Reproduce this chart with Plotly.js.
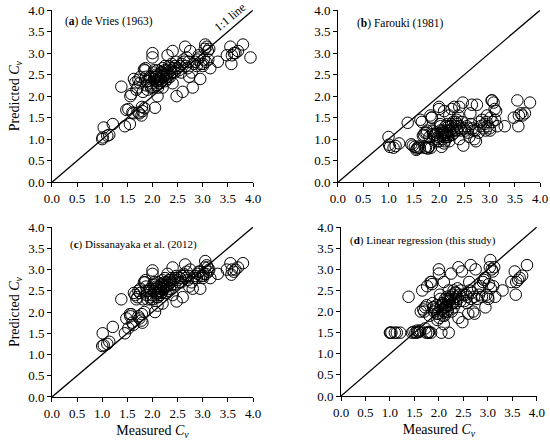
<!DOCTYPE html>
<html>
<head>
<meta charset="utf-8">
<script src="https://cdn.plot.ly/plotly-3.0.1.min.js"></script>
<style>
  body { margin: 0; background: #fff; }
  #chart { width: 550px; height: 441px; }
</style>
</head>
<body>
<div id="chart"></div>
<script>
// measured Cv (shared by all four panels)
var measured = [
  1.00, 1.01, 1.03, 1.10, 1.14, 1.21,
  1.38, 1.45, 1.48, 1.52, 1.55, 1.56, 1.58, 1.60, 1.63, 1.66,
  1.70, 1.72, 1.74, 1.76, 1.78, 1.80, 1.81, 1.83, 1.84, 1.86,
  1.88, 1.90, 1.62, 1.68, 1.75, 1.79, 1.85, 1.87, 1.89, 1.72,
  1.92, 1.95, 1.97, 1.98, 2.00, 2.00, 2.02, 2.03, 2.05, 2.06,
  2.07, 2.08, 2.10, 2.10, 2.12, 2.13, 2.15, 2.16, 2.17, 2.18,
  2.20, 2.20, 2.22, 2.23, 2.25, 2.26, 2.28, 2.30, 2.30, 2.32,
  2.33, 2.35, 2.36, 2.38, 2.40, 2.40, 2.42, 2.44, 2.45, 2.47,
  2.48, 2.50, 2.03, 2.08, 2.11, 2.14, 2.18, 2.21, 1.96, 2.05,
  2.09, 2.24, 2.27, 2.12, 2.16, 2.19, 2.01, 2.35, 2.39, 2.29,
  2.52, 2.55, 2.58, 2.60, 2.62, 2.65, 2.66, 2.68, 2.70, 2.72,
  2.75, 2.78, 2.80, 2.82, 2.85, 2.88, 2.90, 2.92, 2.95, 2.97,
  3.00, 3.02, 3.04, 3.05, 3.06, 3.08, 3.10, 3.11, 3.13, 3.15,
  2.57, 2.63, 2.73, 2.94, 3.01,
  3.30, 3.48, 3.55, 3.57, 3.58, 3.62, 3.65, 3.70, 3.80, 3.95
];

// (a) de Vries (1963)
var predDeVries = [
  1.00, 1.04, 1.27, 1.08, 1.10, 1.35,
  2.22, 1.30, 1.68, 1.70, 1.35, 2.00, 2.05, 1.62, 2.40, 2.32,
  2.20, 2.38, 1.60, 2.45, 1.55, 1.65, 2.10, 2.62, 1.72, 2.65,
  2.25, 2.15, 1.60, 2.15, 2.30, 1.75, 2.60, 2.45, 2.35, 1.62,
  2.35, 2.45, 2.20, 2.30, 3.00, 2.90, 2.55, 2.40, 1.73, 2.35,
  2.45, 2.25, 2.00, 2.60, 2.40, 2.50, 2.30, 2.45, 2.55, 2.35,
  2.65, 2.20, 2.45, 2.50, 2.70, 2.35, 2.60, 2.95, 2.40, 2.55,
  2.70, 2.45, 2.60, 2.75, 3.05, 2.30, 2.65, 2.55, 2.70, 2.80,
  2.00, 2.65, 2.60, 2.50, 2.20, 2.40, 2.35, 2.50, 2.25, 2.45,
  2.35, 2.60, 2.50, 2.35, 2.40, 2.55, 2.20, 2.65, 2.55, 2.50,
  2.60, 2.70, 2.75, 2.10, 2.85, 3.15, 2.70, 2.90, 2.65, 2.80,
  3.05, 2.55, 2.20, 2.75, 2.80, 2.70, 2.85, 2.95, 2.40, 2.75,
  2.70, 2.85, 3.10, 3.20, 2.80, 3.15, 3.05, 2.85, 3.10, 2.65,
  2.55, 2.80, 2.45, 2.90, 2.75,
  2.80, 2.95, 3.15, 2.75, 2.95, 3.00, 3.00, 3.05, 3.20, 2.90
];

// (b) Farouki (1981)
var predFarouki = [
  1.05, 0.87, 0.82, 0.80, 0.84, 0.90,
  1.38, 0.88, 0.85, 0.82, 0.75, 0.78, 0.80, 0.83, 1.45, 1.40,
  1.10, 1.15, 0.80, 1.20, 0.78, 0.82, 1.05, 1.55, 0.80, 1.50,
  1.12, 1.08, 0.80, 1.08, 1.15, 0.82, 1.50, 1.20, 1.18, 0.80,
  1.10, 1.15, 0.95, 1.05, 1.75, 1.70, 1.35, 1.20, 0.82, 1.10,
  1.20, 1.00, 0.90, 1.65, 1.15, 1.30, 1.05, 1.20, 1.35, 1.10,
  1.55, 0.95, 1.20, 1.30, 1.70, 1.10, 1.40, 1.75, 1.15, 1.30,
  1.40, 1.20, 1.35, 1.55, 1.75, 1.00, 1.25, 1.20, 1.40, 1.85,
  0.85, 1.25, 1.30, 1.15, 0.95, 1.10, 1.05, 1.20, 1.00, 1.15,
  1.05, 1.35, 1.25, 1.10, 1.15, 1.30, 0.95, 1.45, 1.30, 1.20,
  1.20, 1.30, 1.25, 1.05, 1.60, 1.80, 1.25, 1.20, 1.00, 1.20,
  1.80, 1.15, 1.40, 1.30, 1.45, 1.25, 1.35, 1.20, 1.55, 1.30,
  1.25, 1.50, 1.90, 1.90, 1.40, 1.85, 1.70, 1.45, 1.65, 1.30,
  1.15, 1.35, 0.95, 1.40, 1.20,
  1.30, 1.50, 1.90, 1.30, 1.55, 1.60, 1.55, 1.60, 1.85, null
];

// (c) Dissanayaka et al. (2012)
var predDissanayaka = [
  1.20, 1.50, 1.22, 1.25, 1.30, 1.65,
  2.30, 1.50, 1.85, 1.62, 1.95, 1.90, 1.95, 1.75, 2.45, 2.40,
  2.35, 2.50, 1.85, 2.55, 1.80, 1.75, 2.30, 2.70, 2.00, 2.75,
  2.40, 2.30, 1.70, 2.30, 2.45, 1.95, 2.70, 2.60, 2.50, 1.90,
  2.50, 2.55, 2.30, 2.40, 2.98, 2.90, 2.65, 2.50, 2.00, 2.45,
  2.55, 2.35, 2.15, 2.70, 2.50, 2.60, 2.40, 2.55, 2.65, 2.45,
  2.75, 2.20, 2.55, 2.60, 2.80, 2.45, 2.70, 2.90, 2.50, 2.65,
  2.75, 2.55, 2.70, 2.80, 3.05, 2.40, 2.75, 2.65, 2.80, 2.85,
  2.25, 2.75, 2.70, 2.60, 2.35, 2.50, 2.45, 2.60, 2.35, 2.55,
  2.45, 2.70, 2.60, 2.45, 2.50, 2.65, 2.30, 2.75, 2.65, 2.60,
  2.70, 2.80, 2.85, 2.35, 2.90, 3.12, 2.80, 2.95, 2.75, 2.85,
  3.00, 2.70, 2.55, 2.80, 2.85, 2.80, 2.90, 2.95, 2.55, 2.85,
  2.80, 2.90, 3.05, 3.20, 2.90, 3.10, 3.05, 2.95, 3.00, 2.80,
  2.70, 2.85, 2.60, 2.95, 2.85,
  2.90, 3.00, 3.15, 2.88, 3.00, 2.95, 3.00, 3.05, 3.15, null
];

// (d) Linear regression (this study)
var predLinear = [
  1.50, 1.50, 1.50, 1.50, 1.50, 1.50,
  2.35, 1.50, 1.52, 1.50, 1.50, 1.55, 1.52, 1.52, 2.00, 2.50,
  2.00, 2.10, 1.50, 2.60, 1.50, 1.52, 1.90, 2.70, 1.50, 2.65,
  2.10, 2.00, 1.55, 2.05, 2.15, 1.50, 2.70, 2.20, 2.10, 1.60,
  2.05, 2.15, 1.80, 1.95, 3.00, 2.90, 2.40, 2.10, 1.50, 2.05,
  2.20, 1.90, 1.70, 2.70, 2.10, 2.30, 2.00, 2.15, 2.35, 2.05,
  2.50, 1.50, 2.15, 2.30, 2.90, 2.00, 2.40, 2.50, 2.10, 2.30,
  2.45, 2.20, 2.35, 2.55, 3.05, 1.85, 2.40, 2.25, 2.50, 2.95,
  1.75, 2.40, 2.30, 2.20, 1.90, 2.10, 2.00, 2.25, 1.95, 2.15,
  2.00, 2.35, 2.20, 2.10, 2.15, 2.30, 1.85, 2.45, 2.30, 2.20,
  2.25, 2.40, 2.35, 1.95, 2.70, 3.10, 2.30, 2.45, 2.00, 2.35,
  3.00, 2.30, 2.55, 2.40, 2.60, 2.35, 2.70, 2.75, 2.10, 2.40,
  2.35, 2.65, 3.05, 3.22, 2.55, 3.00, 2.95, 2.60, 3.05, 2.35,
  2.20, 2.50, 1.95, 2.80, 2.30,
  2.50, 2.70, 2.95, 2.40, 2.70, 2.75, 2.80, 2.85, 3.10, null
];

var oneToOne = [0, 4];

var panels = [
  {y: predDeVries, xa: 'x', ya: 'y'},
  {y: predFarouki, xa: 'x2', ya: 'y2'},
  {y: predDissanayaka, xa: 'x3', ya: 'y3'},
  {y: predLinear, xa: 'x4', ya: 'y4'}
];

var data = [];
panels.forEach(function (p) {
  data.push({
    x: oneToOne, y: oneToOne, xaxis: p.xa, yaxis: p.ya,
    mode: 'lines', line: {color: 'black', width: 1.3},
    hoverinfo: 'skip', showlegend: false
  });
  data.push({
    x: measured, y: p.y, xaxis: p.xa, yaxis: p.ya,
    mode: 'markers', type: 'scatter', showlegend: false, cliponaxis: false,
    marker: {symbol: 'circle-open', size: 11.5, color: 'black', line: {width: 1, color: 'black'}}
  });
});

var serif = '"Liberation Serif", serif';
var font = {family: serif, size: 13, color: 'black'};

function axis(domain, anchor, title) {
  var a = {
    domain: domain, anchor: anchor, range: [0, 4], dtick: 0.5, tick0: 0,
    tickformat: '.1f', showline: true, linecolor: 'black', linewidth: 1,
    ticks: 'outside', ticklen: 4, tickcolor: 'black', showgrid: false,
    zeroline: false, fixedrange: true,
    tickfont: {family: serif, size: 13, color: 'black'}
  };
  if (title) a.title = {text: title, font: {family: serif, size: 14, color: 'black'}, standoff: 5};
  return a;
}

var yTitle = 'Predicted <i>C</i><sub><i>v</i></sub>';
var xTitle = 'Measured <i>C</i><sub><i>v</i></sub>';

var layout = {
  width: 550, height: 441,
  margin: {l: 0, r: 0, t: 0, b: 0},
  paper_bgcolor: 'white', plot_bgcolor: 'white',
  font: font,
  xaxis: axis([0.0945, 0.46], 'y'),
  yaxis: axis([0.587, 0.977], 'x', yTitle),
  xaxis2: axis([0.6145, 0.982], 'y2'),
  yaxis2: axis([0.587, 0.977], 'x2'),
  xaxis3: axis([0.0945, 0.46], 'y3', xTitle),
  yaxis3: axis([0.0998, 0.485], 'x3', yTitle),
  xaxis4: axis([0.62, 0.976], 'y4', xTitle),
  yaxis4: axis([0.102, 0.485], 'x4'),
  annotations: [
    {xref: 'x', yref: 'y', x: 0.22, y: 3.73, xanchor: 'left', showarrow: false,
     text: '(<b>a</b>) de Vries (1963)', font: {family: serif, size: 11.5}},
    {xref: 'x', yref: 'y', x: 3.55, y: 3.83, showarrow: false, textangle: -40,
     text: '1:1 line', font: {family: serif, size: 12}},
    {xref: 'x2', yref: 'y2', x: 0.34, y: 3.7, xanchor: 'left', showarrow: false,
     text: '(<b>b</b>) Farouki (1981)', font: {family: serif, size: 11.5}},
    {xref: 'x3', yref: 'y3', x: 0.32, y: 3.58, xanchor: 'left', showarrow: false,
     text: '(<b>c</b>) Dissanayaka et al. (2012)', font: {family: serif, size: 11}},
    {xref: 'x4', yref: 'y4', x: 0.14, y: 3.69, xanchor: 'left', showarrow: false,
     text: '(<b>d</b>) Linear regression (this study)', font: {family: serif, size: 11}}
  ]
};

Plotly.newPlot('chart', data, layout, {staticPlot: true});
</script>
</body>
</html>
